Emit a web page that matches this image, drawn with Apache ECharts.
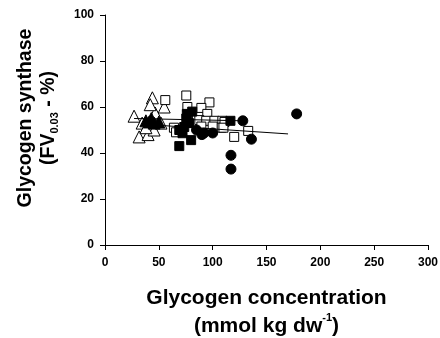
<!DOCTYPE html>
<html>
<head>
<meta charset="utf-8">
<script src="https://cdn.jsdelivr.net/npm/echarts@6/dist/echarts.min.js"></script>
<style>
html, body { margin: 0; padding: 0; background: #fff; }
#main { width: 440px; height: 338px; }
</style>
</head>
<body>
<div id="main"></div>
<script>
// values: [glycogen, synthase]
var openTriangles = [[27,56],[34.5,53],[31.7,47],[40,48],[45.6,50],[46.6,57.4],[44,64],[42,61],[55,60],[52,53],[38,51]];
var filledTriangles = [[38,54],[41,53.5],[43,55],[45.6,53],[50,53.5]];
var openSquares = [[56,63],[75.5,65],[97,62],[76.5,60],[89.5,59.6],[95,57],[87.6,54.3],[94,54],[101.6,54],[109,54],
  [108,51],[64,51],[66,49],[89.5,51.5],[100,51.5],[111,53.5],[110,51],[120,47],[133,49.6],[77,55.6]];
var filledSquares = [[69,43],[80,45.6],[81,58],[75.5,55],[73.6,51.3],[78,53],[69,50],[72,48.6],[116.5,54],[76,57]];
var filledCircles = [[90,48],[100,48.7],[92,48.7],[128,54],[136,46],[117,39],[117,33],[178,57],[85,50]];
var upperFit = [[27,55],[128,54]];
var lowerFit = [[45,52.2],[170,48.3]];

var font = 'Liberation Sans, Arial, sans-serif';
var myChart = echarts.init(document.getElementById('main'));

function pts(name, data, symbol, size, filled) {
    return {
        name: name, type: 'scatter', data: data, symbol: symbol, symbolSize: size,
        itemStyle: { color: filled ? '#000' : '#fff', borderColor: '#000', borderWidth: 1, opacity: 1 },
        emphasis: { disabled: true }
    };
}
function fit(data) {
    return {
        type: 'line', data: data, showSymbol: false, symbol: 'none', z: 5,
        lineStyle: { color: '#000', width: 1 }
    };
}

myChart.setOption({
    animation: false,
    grid: { left: 105, right: 12, top: 15, bottom: 93, outerBoundsMode: 'none', containLabel: false },
    xAxis: {
        type: 'value', min: 0, max: 300, interval: 50,
        name: '{t|Glycogen concentration}\n{t|(mmol kg dw}{s|-1}{t|)}',
        nameLocation: 'middle', nameGap: 39,
        nameTextStyle: {
            rich: {
                t: { fontFamily: font, fontWeight: 'bold', fontSize: 21, color: '#000', lineHeight: 28 },
                s: { fontFamily: font, fontWeight: 'bold', fontSize: 11, color: '#000', verticalAlign: 'top', lineHeight: 28, padding: [0, 0, 10, 0] }
            }
        },
        splitLine: { show: false },
        axisLine: { lineStyle: { color: '#000', width: 1 } },
        axisTick: { inside: false, length: 5, lineStyle: { color: '#000' } },
        axisLabel: { fontFamily: font, fontWeight: 'bold', fontSize: 12, color: '#000', margin: 12 }
    },
    yAxis: {
        type: 'value', min: 0, max: 100, interval: 20,
        name: '{t|Glycogen synthase}\n{t|(FV}{b|0.03}{t| - %)}',
        nameLocation: 'middle', nameGap: 45, nameRotate: 90,
        nameTextStyle: {
            padding: [0, 0, 0, 24],
            rich: {
                t: { fontFamily: font, fontWeight: 'bold', fontSize: 19.5, color: '#000', lineHeight: 23 },
                b: { fontFamily: font, fontWeight: 'bold', fontSize: 11, color: '#000', verticalAlign: 'bottom', lineHeight: 23, padding: [6, 0, 0, 0] }
            }
        },
        splitLine: { show: false },
        axisLine: { show: true, lineStyle: { color: '#000', width: 1 } },
        axisTick: { show: true, length: 5, lineStyle: { color: '#000' } },
        axisLabel: { fontFamily: font, fontWeight: 'bold', fontSize: 12, color: '#000', margin: 11 }
    },
    series: [
        pts('open triangles', openTriangles, 'triangle', 12, false),
        pts('filled triangles', filledTriangles, 'triangle', 12, true),
        pts('open squares', openSquares, 'rect', 9, false),
        pts('filled squares', filledSquares, 'rect', 9, true),
        pts('filled circles', filledCircles, 'circle', 10, true),
        fit(upperFit),
        fit(lowerFit)
    ]
});
</script>
</body>
</html>
